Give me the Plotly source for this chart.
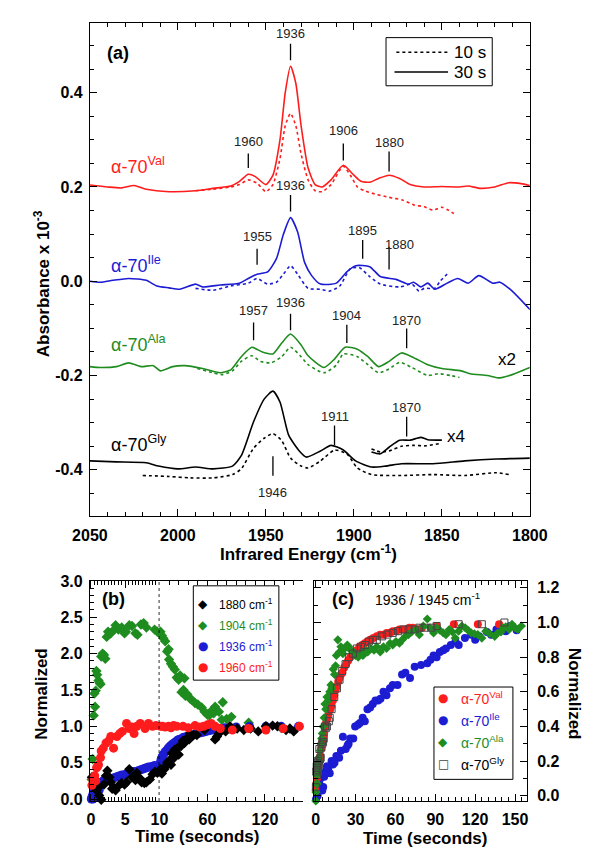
import plotly.graph_objects as go

# ---------------- Panel (a): IR difference spectra ----------------
val30_wn = [2050,2040,2032,2025,2018,2005,1990,1980,1970,1965,1960,1956,1950,1946,1942,1939,1936,1933,1930,1926,1922,1918,1913,1906,1900,1896,1891,1886,1880,1874,1868,1860,1850,1840,1835,1828,1820,1812,1805,1800]
val30_ab = [0.204,0.200,0.198,0.203,0.195,0.190,0.192,0.197,0.202,0.212,0.227,0.222,0.205,0.225,0.300,0.400,0.456,0.420,0.330,0.240,0.205,0.200,0.215,0.246,0.225,0.212,0.210,0.218,0.225,0.218,0.205,0.200,0.201,0.200,0.202,0.197,0.200,0.209,0.207,0.203]
val10_wn = [1990,1980,1970,1965,1960,1955,1950,1946,1942,1939,1936,1933,1930,1926,1922,1918,1913,1906,1902,1898,1894,1888,1880,1872,1866,1860,1855,1850,1846,1842]
val10_ab = [0.192,0.195,0.200,0.205,0.215,0.208,0.190,0.205,0.260,0.330,0.356,0.330,0.270,0.215,0.192,0.190,0.205,0.244,0.225,0.200,0.192,0.185,0.178,0.172,0.162,0.158,0.151,0.157,0.150,0.141]

ile30_wn = [2050,2044,2037,2028,2018,2012,2005,1999,1990,1986,1976,1965,1960,1955,1949,1944,1940,1936,1932,1928,1924,1919,1910,1904,1899,1891,1885,1876,1869,1866,1862,1858,1854,1847,1841,1835,1829,1821,1817,1810,1800]
ile30_ab = [0.000,-0.002,0.002,0.006,0.002,-0.010,-0.014,-0.017,-0.006,-0.012,-0.008,-0.004,0.006,0.015,0.020,0.048,0.100,0.135,0.105,0.040,0.012,-0.006,-0.004,0.020,0.033,0.031,0.010,0.004,-0.006,-0.002,-0.012,-0.004,-0.017,-0.004,0.006,-0.004,0.012,-0.004,-0.002,-0.021,-0.060]
ile10_wn = [1990,1980,1970,1960,1955,1949,1944,1940,1936,1932,1926,1919,1914,1908,1902,1897,1891,1885,1874,1867,1863,1860,1854,1851,1847]
ile10_ab = [-0.015,-0.019,-0.010,-0.004,0.006,-0.006,-0.002,0.015,0.033,0.015,-0.015,-0.017,-0.021,-0.010,0.027,0.029,0.010,-0.006,-0.012,-0.006,-0.021,-0.015,-0.015,0.000,0.015]

ala30_wn = [2050,2044,2035,2028,2021,2014,2010,2003,1996,1986,1976,1970,1964,1958,1952,1946,1941,1936,1930,1926,1917,1911,1905,1898,1892,1886,1880,1873,1866,1858,1850,1839,1834,1824,1818,1810,1800]
ala30_ab = [-0.181,-0.183,-0.181,-0.173,-0.181,-0.179,-0.190,-0.181,-0.179,-0.185,-0.194,-0.188,-0.160,-0.140,-0.150,-0.154,-0.131,-0.112,-0.135,-0.158,-0.183,-0.165,-0.140,-0.144,-0.160,-0.181,-0.170,-0.152,-0.162,-0.177,-0.185,-0.190,-0.196,-0.200,-0.205,-0.198,-0.183]
ala10_wn = [1989,1980,1975,1969,1964,1958,1953,1947,1941,1936,1930,1926,1917,1910,1906,1898,1892,1886,1880,1874,1867,1858,1852,1845,1840]
ala10_ab = [-0.185,-0.194,-0.198,-0.190,-0.170,-0.158,-0.170,-0.173,-0.160,-0.140,-0.160,-0.177,-0.194,-0.178,-0.154,-0.160,-0.177,-0.194,-0.186,-0.172,-0.183,-0.200,-0.196,-0.200,-0.204]

gly30_wn = [2050,2035,2018,2011,2000,1990,1980,1969,1964,1957,1951,1946,1942,1937,1931,1927,1919,1913,1906,1899,1890,1882,1873,1855,1837,1819,1800]
gly30_ab = [-0.381,-0.383,-0.385,-0.392,-0.398,-0.394,-0.398,-0.392,-0.370,-0.298,-0.250,-0.233,-0.256,-0.327,-0.360,-0.373,-0.360,-0.348,-0.358,-0.381,-0.394,-0.392,-0.387,-0.387,-0.381,-0.377,-0.375]
gly10_wn = [2020,2005,1993,1980,1969,1964,1957,1951,1946,1941,1936,1930,1926,1919,1911,1904,1898,1890,1873,1855,1837,1819,1812]
gly10_ab = [-0.412,-0.414,-0.417,-0.417,-0.410,-0.398,-0.354,-0.333,-0.323,-0.338,-0.375,-0.392,-0.396,-0.381,-0.358,-0.366,-0.396,-0.410,-0.412,-0.410,-0.412,-0.406,-0.410]
# x4 expanded inset of the Gly spectrum
glyx4_30_wn = [1890,1885,1880,1874,1868,1862,1858,1850]
glyx4_30_ab = [-0.362,-0.366,-0.352,-0.337,-0.337,-0.331,-0.336,-0.337]
glyx4_10_wn = [1890,1885,1880,1873,1866,1859,1851]
glyx4_10_ab = [-0.356,-0.362,-0.360,-0.350,-0.348,-0.349,-0.344]

peak_wn = [1936, 1960, 1906, 1880, 1936, 1955, 1895, 1880, 1957, 1936, 1904, 1870, 1911, 1870, 1946]
peak_txt = ["1936", "1960", "1906", "1880", "1936", "1955", "1895", "1880", "1957", "1936", "1904", "1870", "1911", "1870", "1946"]

x_ticks_a = [2050, 2000, 1950, 1900, 1850, 1800]
y_ticks_a = [0.4, 0.2, 0.0, -0.2, -0.4]
y_ticktext_a = ["0.4", "0.2", "0.0", "-0.2", "-0.4"]

# ---------------- Panel (b): kinetics at individual bands ----------------
b1880_t = [0.14,0.3,0.55,0.8,1.0,1.2,1.5,1.9,2.2,2.4,2.7,2.9,3.1,3.3,3.6,4.1,4.5,4.9,5.2,5.6,6.0,6.5,6.7,7.1,7.4,7.8,8.1,8.6,9.0,9.4,9.7,11,12.5,15,16.5,18,21,22,23,24,26,29,30,31,32.5,34.5,36,39,41,42,45.6,49,57,68,70,72,74,79,83.5,91,98,105,113,121,128,133,137,142,146,150]
b1880_v = [0.30,0.20,0.26,0.12,0.15,0.05,-0.01,0.20,0.32,0.39,0.30,0.23,0.14,0.16,0.12,0.19,0.22,0.20,0.23,0.41,0.30,0.26,0.36,0.29,0.23,0.22,0.23,0.27,0.34,0.38,0.36,0.41,0.35,0.41,0.45,0.50,0.54,0.47,0.63,0.55,0.68,0.62,0.61,0.73,0.73,0.80,0.77,0.84,0.82,0.90,0.88,0.88,0.95,0.82,0.86,0.90,0.95,0.93,1.00,0.97,0.95,0.97,0.93,1.00,1.01,1.00,0.98,0.95,0.97,0.93]
b1904_t = [0.1,0.25,0.4,0.5,0.6,0.7,0.8,0.9,1.1,1.25,1.4,1.5,1.7,1.9,2.1,2.3,2.5,2.9,3.3,3.6,4.0,4.5,4.9,5.1,5.6,6.0,6.5,6.8,7.3,7.7,8.1,9.3,9.7,11,12.5,14,16,18,20,22,24,26,28,30,33,35,37,39,42,44,47,50,54,57,60,62,65,68,72,76,80,85,103,31.5,36,19.5,66.6,75]
b1904_v = [0.27,0.55,1.15,1.45,1.27,1.49,1.76,1.71,1.63,1.60,1.58,1.96,2.00,1.98,1.93,2.23,2.30,2.28,2.32,2.39,2.33,2.36,2.28,2.30,2.39,2.38,2.28,2.26,2.40,2.42,2.36,2.33,2.30,2.30,2.25,2.21,2.17,2.03,1.92,1.86,1.82,1.78,1.67,1.64,1.47,1.50,1.42,1.44,1.38,1.36,1.32,1.30,1.26,1.20,1.16,1.15,1.22,1.27,1.20,1.33,1.10,1.13,1.05,1.70,1.66,2.06,1.18,1.09]
b1936_t = [0.05,0.15,0.25,0.35,0.45,0.55,0.65,0.8,0.95,1.1,1.3,1.5,1.7,1.9,2.1,2.4,2.7,3.0,3.3,3.6,3.9,4.2,4.5,4.8,5.1,5.4,5.7,6.0,6.3,6.6,6.9,7.2,7.5,7.8,8.1,8.4,8.7,9.0,9.3,9.6,9.9,0.3,0.6,0.9,1.2,
           10.5,11,11.5,12,13,14,15,16,17.5,19,20.5,22,24,26,28,30,32.5,35,38,41,44,47,50,53,56,59,62,65,68,71,74,78,83,90,104,121,137,155]
b1936_v = [0.00,0.03,0.05,0.08,0.10,0.13,0.15,0.17,0.19,0.21,0.22,0.23,0.24,0.26,0.26,0.27,0.27,0.28,0.29,0.30,0.31,0.32,0.33,0.33,0.34,0.35,0.36,0.37,0.38,0.38,0.39,0.40,0.41,0.42,0.43,0.44,0.44,0.45,0.46,0.44,0.42,0.00,0.04,0.08,0.12,
           0.45,0.50,0.53,0.56,0.59,0.61,0.63,0.65,0.67,0.70,0.72,0.74,0.76,0.78,0.80,0.82,0.83,0.85,0.86,0.87,0.88,0.89,0.90,0.91,0.92,0.93,0.94,0.95,0.95,0.96,0.97,0.98,0.98,0.99,1.00,1.00,1.00,1.00]
b1960_t = [0.14,0.3,0.55,0.7,0.82,1.0,1.1,1.4,1.5,1.8,2.2,2.6,2.9,3.3,3.8,4.2,4.6,5.2,5.6,6.0,6.3,6.7,7.2,7.9,8.4,9.0,9.5,11,13,16,19.6,22,24.7,28,34.5,40,47,52,56,60,63.9,68,73.5,86,103,121,139,156]
b1960_v = [0.19,0.27,0.32,0.25,0.43,0.45,0.47,0.57,0.66,0.70,0.77,0.80,0.86,0.70,0.86,0.90,0.93,1.04,0.97,0.99,0.90,1.00,1.04,0.97,1.04,1.00,1.01,1.00,1.00,0.99,1.00,0.98,1.01,1.00,1.00,0.98,1.01,0.99,1.00,1.02,1.04,1.00,0.97,0.95,0.97,0.95,0.97,1.00]
b_legend = ["1880 cm<sup>-1</sup>", "1904 cm<sup>-1</sup>", "1936 cm<sup>-1</sup>", "1960 cm<sup>-1</sup>"]

# ---------------- Panel (c): 1936 / 1945 cm-1 kinetics of the variants ----------------
cval_t = [0.1,0.5,1.0,1.4,2.0,2.5,3.0,3.5,4.2,5.0,5.7,6.4,7.0,7.8,8.5,9.3,10.2,11,12,13,14,15,16,17,18,19,20,21.5,23,24.5,26,27.5,29,31,33,35,37,39,41,43.5,46,48.5,51,53.5,56,58,60.5,63,65.5,68,70.5,73,76,80,91,104,122,138]
cval_v = [0.03,0.07,0.10,0.13,0.16,0.19,0.21,0.23,0.27,0.31,0.33,0.36,0.40,0.42,0.44,0.46,0.49,0.50,0.52,0.55,0.58,0.61,0.63,0.66,0.68,0.70,0.71,0.74,0.76,0.78,0.80,0.81,0.83,0.84,0.86,0.87,0.88,0.89,0.90,0.91,0.92,0.93,0.93,0.94,0.94,0.95,0.95,0.96,0.96,0.96,0.97,0.97,0.96,0.97,0.98,0.99,0.99,0.99]
cile_t = [0.3,0.6,1.0,1.5,2.0,2.8,3.5,4.2,5.0,5.7,6.4,7.2,8.5,9.5,10.6,12,13,14.2,15.6,17.7,19,20.5,22.6,24,24.8,26,28.3,29.7,31.8,33.3,35.4,37,39,41,43,45,47,48.8,51,53.3,55.9,58,61.6,65,67.5,71,74.5,79.3,84,86.4,88.7,91,93.4,96,98,101.7,105.2,107.6,112.3,117,120,123,128.8,132,136,140.6,143,146.5,151.2]
cile_v = [-0.02,0.03,0.08,0.00,0.05,0.07,0.10,0.12,0.03,0.05,0.11,0.14,0.17,0.16,0.13,0.20,0.18,0.19,0.23,0.22,0.26,0.34,0.27,0.29,0.30,0.33,0.33,0.40,0.41,0.42,0.45,0.43,0.50,0.51,0.53,0.55,0.55,0.56,0.60,0.58,0.62,0.64,0.64,0.70,0.71,0.68,0.745,0.755,0.765,0.785,0.81,0.80,0.83,0.84,0.85,0.87,0.89,0.87,0.91,0.93,0.90,0.92,0.945,0.93,0.96,0.97,0.95,0.98,0.955]
cala_t = [0.1,0.3,0.6,0.9,1.2,1.4,1.8,2.2,2.8,3.5,4.0,4.5,5.0,5.6,6.4,7.0,7.6,8.5,9.5,10.6,11.5,12.2,13.2,14.2,15.0,15.6,16.7,17.9,19,20.5,22,23.8,24.9,26.5,28.5,30,32,34,35.6,37.5,39.2,41.5,43.9,46,48.6,51,53.3,56,58,60.4,63,65.1,67.5,69.8,72.2,75.7,78,81,84,86,88.7,91,93.4,96,98,100.5,102.9,105,107.5,110,112.5,114.6,117,119.4,122,125,128,131,134.7,137,139.4,141,143,145.5,147.7,150,152,154.8]
cala_v = [-0.03,0.02,0.07,0.12,0.07,0.18,0.15,0.22,0.20,0.26,0.30,0.33,0.36,0.40,0.45,0.53,0.50,0.57,0.55,0.60,0.64,0.62,0.73,0.70,0.75,0.81,0.90,0.83,0.86,0.82,0.85,0.87,0.86,0.84,0.83,0.81,0.80,0.82,0.81,0.84,0.83,0.85,0.84,0.86,0.83,0.86,0.85,0.88,0.87,0.89,0.88,0.90,0.92,0.93,0.945,0.96,0.93,0.98,1.02,0.97,0.94,0.97,0.955,0.94,0.93,0.96,0.945,0.91,0.95,0.98,0.97,0.955,0.94,0.935,0.93,0.91,0.95,0.935,0.92,0.94,0.945,0.97,0.975,0.96,0.99,0.97,0.96,0.98]
cgly_t = [0.2,0.5,0.8,1.0,1.3,1.6,2.0,2.4,2.8,3.3,3.8,4.4,5.0,5.6,6.1,7.0,7.6,8.5,9.9,10.6,12,14,16,18,20,22.5,25,28,31,34,37,40,43,46,50,54,58,62,66,70,74.5,78,82,87,91,107.6,125,142]
cgly_v = [0.05,0.14,0.17,0.12,0.19,0.15,0.20,0.18,0.27,0.21,0.22,0.28,0.30,0.31,0.33,0.40,0.39,0.40,0.43,0.45,0.50,0.57,0.62,0.67,0.72,0.76,0.80,0.82,0.85,0.86,0.87,0.89,0.90,0.90,0.92,0.93,0.94,0.95,0.96,0.96,0.96,0.97,0.97,0.97,0.98,0.99,0.99,1.00]
c_legend = ["α-70<sup>Val</sup>", "α-70<sup>Ile</sup>", "α-70<sup>Ala</sup>", "α-70<sup>Gly</sup>"]

# ---------------- styling ----------------
FONT = "Liberation Sans, Arial, sans-serif"
SYMF = "DejaVu Sans, sans-serif"
RED, BLUE, GREEN, BLACK = "#ff1c1c", "#1c1cd2", "#1f8c1f", "#000000"
W, H = 600, 855
fx = lambda px: px / W
fy = lambda py: 1 - py / H

fig = go.Figure()


def spec(x, y, color, dash):
    fig.add_trace(go.Scatter(x=x, y=y, mode="lines", xaxis="x", yaxis="y",
                             line=dict(color=color, width=1.6, dash=dash, shape="spline", smoothing=0.6),
                             showlegend=False, hoverinfo="skip"))


for wn, ab, c in [(val10_wn, val10_ab, RED), (ile10_wn, ile10_ab, BLUE), (ala10_wn, ala10_ab, GREEN),
                  (gly10_wn, gly10_ab, BLACK), (glyx4_10_wn, glyx4_10_ab, BLACK)]:
    spec(wn, ab, c, "dot")
for wn, ab, c in [(val30_wn, val30_ab, RED), (ile30_wn, ile30_ab, BLUE), (ala30_wn, ala30_ab, GREEN),
                  (gly30_wn, gly30_ab, BLACK), (glyx4_30_wn, glyx4_30_ab, BLACK)]:
    spec(wn, ab, c, "solid")


# panel (b): split each series between the 0-10 s axis (x2) and the 10-160 s axis (x3)
def kin_b(t, v, color, symbol, size):
    t1 = [a for a in t if a <= 10]
    v1 = [b for a, b in zip(t, v) if a <= 10]
    t2 = [a for a in t if a > 10]
    v2 = [b for a, b in zip(t, v) if a > 10]
    mk = dict(color=color, symbol=symbol, size=size, line=dict(width=0))
    for tt, vv, xa in [(t1, v1, "x2"), (t2, v2, "x3")]:
        fig.add_trace(go.Scatter(x=tt, y=vv, mode="markers", xaxis=xa, yaxis="y2", marker=mk,
                                 showlegend=False, hoverinfo="skip", cliponaxis=False))


kin_b(b1904_t, b1904_v, GREEN, "diamond", 8)
kin_b(b1936_t, b1936_v, BLUE, "circle", 9)
kin_b(b1880_t, b1880_v, BLACK, "diamond", 8)
kin_b(b1960_t, b1960_v, RED, "circle", 9)


def kin_c(t, v, color, symbol, size, lw=0):
    fig.add_trace(go.Scatter(x=t, y=v, mode="markers", xaxis="x4", yaxis="y4",
                             marker=dict(color=color, symbol=symbol, size=size, line=dict(width=lw, color=color)),
                             showlegend=False, hoverinfo="skip", cliponaxis=False))


kin_c(cile_t, cile_v, BLUE, "circle", 8)
kin_c(cval_t, cval_v, RED, "circle", 8)
kin_c(cala_t, cala_v, GREEN, "diamond", 7)
kin_c(cgly_t, cgly_v, "#444444", "square-open", 7, lw=1)

# ---------------- axes ----------------
tickf = dict(family=FONT, size=16, color="black", weight="bold")
common = dict(showgrid=False, zeroline=False, showline=True, linecolor="black", linewidth=1,
              ticks="inside", ticklen=7, tickwidth=1, tickcolor="black", tickfont=tickf)

ya_dom = [fy(509), fy(7)]
yb_dom = [fy(799), fy(575)]

fig.update_layout(
    width=W, height=H, margin=dict(l=0, r=0, t=0, b=0),
    paper_bgcolor="white", plot_bgcolor="white",
    font=dict(family=FONT, color="black", size=13),
    showlegend=False,
    xaxis=dict(**common, domain=[fx(68), fx(536)], range=[2050, 1800], anchor="y",
               tickmode="array", tickvals=x_ticks_a, mirror="ticks", ticklabelstandoff=5,
               minor=dict(ticks="inside", ticklen=4, dtick=10, tick0=0, tickcolor="black")),
    yaxis=dict(**common, domain=ya_dom, range=[-0.498, 0.548], anchor="x",
               tickmode="array", tickvals=y_ticks_a, ticktext=y_ticktext_a, mirror="ticks",
               ticklabelstandoff=3,
               minor=dict(ticks="inside", ticklen=4, dtick=0.05, tick0=0, tickcolor="black")),
    xaxis2=dict(**common, domain=[fx(68), fx(142)], range=[-0.15, 10.01], anchor="y2",
                tickmode="linear", tick0=0, dtick=5, mirror="ticks", ticklabelstandoff=4,
                minor=dict(ticks="inside", ticklen=4, dtick=0.5, tick0=0, tickcolor="black")),
    xaxis3=dict(**common, domain=[fx(142), fx(295)], range=[10, 160], anchor="y2",
                tickmode="linear", tick0=0, dtick=60, mirror="ticks", ticklabelstandoff=4,
                minor=dict(ticks="inside", ticklen=4, dtick=10, tick0=0, tickcolor="black")),
    yaxis2=dict(**common, domain=yb_dom, range=[-0.027, 3.0], anchor="x2",
                tickmode="linear", tick0=0, dtick=0.5, tickformat=".1f", ticklabelstandoff=3,
                minor=dict(ticks="inside", ticklen=4, dtick=0.1, tick0=0, tickcolor="black")),
    yaxis3=dict(**common, domain=yb_dom, range=[-0.027, 3.0], anchor="x3", overlaying="y2",
                side="right", showticklabels=False, tickmode="linear", tick0=0, dtick=0.5,
                minor=dict(ticks="inside", ticklen=4, dtick=0.1, tick0=0, tickcolor="black")),
    xaxis4=dict(**common, domain=[fx(306), fx(533)], range=[-1.5, 159], anchor="y4",
                tickmode="linear", tick0=0, dtick=30, mirror="ticks", ticklabelstandoff=4,
                minor=dict(ticks="inside", ticklen=4, dtick=5, tick0=0, tickcolor="black")),
    yaxis4=dict(**common, domain=yb_dom, range=[-0.03, 1.24], anchor="x4", side="right",
                tickmode="linear", tick0=0, dtick=0.2, tickformat=".1f", mirror="ticks",
                ticklabelstandoff=6,
                minor=dict(ticks="inside", ticklen=4, dtick=0.1, tick0=0, tickcolor="black")),
)

# dotted divider at t = 10 s in panel (b)
shapes = [dict(type="line", xref="x2", yref="y2 domain", x0=10, x1=10, y0=0, y1=1,
               line=dict(color="black", width=1.5, dash="dot"))]

# legend boxes
shapes += [
    dict(type="rect", xref="paper", yref="paper", x0=fx(383), x1=fx(496), y0=fy(71), y1=fy(22),
         line=dict(color="black", width=1), fillcolor="white", layer="above"),
    dict(type="line", xref="paper", yref="paper", x0=fx(394), x1=fx(449), y0=fy(37), y1=fy(37),
         line=dict(color="black", width=1.5, dash="dot")),
    dict(type="line", xref="paper", yref="paper", x0=fx(392), x1=fx(449), y0=fy(57), y1=fy(57),
         line=dict(color="black", width=1.6)),
    dict(type="rect", xref="paper", yref="paper", x0=fx(178), x1=fx(269), y0=fy(676), y1=fy(580),
         line=dict(color="black", width=1), fillcolor="white", layer="above"),
    dict(type="rect", xref="paper", yref="paper", x0=fx(434), x1=fx(518), y0=fy(777), y1=fy(683),
         line=dict(color="black", width=1), fillcolor="white", layer="above"),
]

# peak markers in panel (a)
peak_text_y = [0.525, 0.296, 0.319, 0.294, 0.204, 0.094, 0.108, 0.079, -0.0625, -0.044, -0.073, -0.083, -0.2875, -0.267, -0.448]
peak_text_dx = [0, 0, 0, 0, 0, 0, 0, -6, 0, 0, 0, 0, 0, 0, 0]
peak_line = [(0.504, 0.469), (0.271, 0.240), (0.292, 0.256), (0.275, 0.233), (0.183, 0.148), (0.069, 0.035),
             (0.0875, 0.048), (0.073, 0.025), (-0.0875, -0.125), (-0.069, -0.104), (-0.092, -0.131),
             (-0.100, -0.142), (-0.306, -0.348), (-0.2875, -0.329), (-0.371, -0.4125)]

ann = []
for wn, txt, ty, dx, (l0, l1) in zip(peak_wn, peak_txt, peak_text_y, peak_text_dx, peak_line):
    shapes.append(dict(type="line", xref="x", yref="y", x0=wn, x1=wn, y0=l0, y1=l1,
                       line=dict(color="black", width=1.3)))
    ann.append(dict(x=wn + dx, y=ty, xref="x", yref="y", text=txt, showarrow=False,
                    font=dict(family=FONT, size=13, color="#222222")))

# sample labels
for txt, col, y in [("α-70<sup>Val</sup>", RED, 0.245), ("α-70<sup>Ile</sup>", BLUE, 0.036),
                    ("α-70<sup>Ala</sup>", GREEN, -0.132), ("α-70<sup>Gly</sup>", BLACK, -0.344)]:
    ann.append(dict(x=2039, y=y, xref="x", yref="y", text=txt, showarrow=False, xanchor="left",
                    font=dict(family=FONT, size=18, color=col)))
ann.append(dict(x=1813, y=-0.165, xref="x", yref="y", text="x2", showarrow=False,
                font=dict(family=FONT, size=17, color="black")))
ann.append(dict(x=1842, y=-0.329, xref="x", yref="y", text="x4", showarrow=False,
                font=dict(family=FONT, size=17, color="black")))


def pann(px, py, text, size, bold=False, angle=0, xanchor="center", color="black", family=FONT):
    f = dict(family=family, size=size, color=color)
    if bold:
        f["weight"] = "bold"
    ann.append(dict(x=fx(px), y=fy(py), xref="paper", yref="paper", text=text, showarrow=False,
                    xanchor=xanchor, yanchor="middle", textangle=angle, font=f))


pann(98, 38, "(a)", 18, bold=True)
pann(93, 593, "(b)", 18, bold=True)
pann(337, 593, "(c)", 18, bold=True)
pann(427, 593, "1936 / 1945 cm<sup>-1</sup>", 14)
pann(453, 37, "10 s", 17, xanchor="left")
pann(453, 58, "30 s", 17, xanchor="left")
pann(17, 272, "Absorbance x 10<sup>-3</sup>", 17, bold=True, angle=-90)
pann(300, 547, "Infrared Energy (cm<sup>-1</sup>)", 17, bold=True)
pann(17, 690, "Normalized", 17, bold=True, angle=-90)
pann(583, 690, "Normalized", 17, bold=True, angle=90)
pann(182, 835, "Time (seconds)", 17, bold=True)
pann(424, 837, "Time (seconds)", 17, bold=True)

# legend of panel (b)
b_cols = [BLACK, GREEN, BLUE, RED]
b_syms = ["◆", "◆", "●", "●"]
for i, (txt, col, sym) in enumerate(zip(b_legend, b_cols, b_syms)):
    py = 598 + i * 21.5
    pann(188, py, sym, 12, color=col, family=SYMF)
    pann(203, py, txt, 12, xanchor="left", color=col)

# legend of panel (c)
c_cols = [RED, BLUE, GREEN, BLACK]
c_syms = ["●", "●", "◆", "□"]
c_symcols = [RED, BLUE, GREEN, "#444444"]
for i, (txt, col, sym, sc) in enumerate(zip(c_legend, c_cols, c_syms, c_symcols)):
    py = 694 + i * 22.3
    pann(444, py, sym, 12, color=sc, family=SYMF)
    pann(461, py, txt, 14, xanchor="left", color=col)

fig.update_layout(shapes=shapes, annotations=ann)
fig.write_html("out.html")
